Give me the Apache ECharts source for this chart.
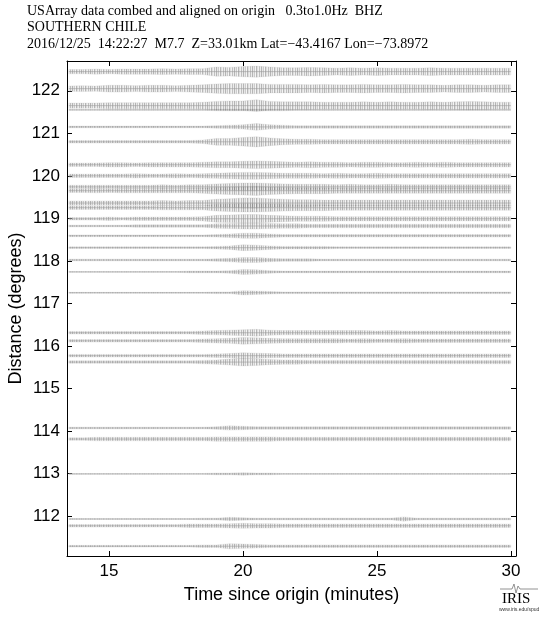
<!DOCTYPE html>
<html><head><meta charset="utf-8">
<script src="https://cdn.jsdelivr.net/npm/echarts@6/dist/echarts.min.js"></script>
<style>html,body{margin:0;padding:0;background:#fff}#c{width:556px;height:618px}</style>
</head><body><div id="c"></div>
<script>
// ---------- data ----------
const titleLines = [
  'USArray data combed and aligned on origin   0.3to1.0Hz  BHZ',
  'SOUTHERN CHILE',
  '2016/12/25  14:22:27  M7.7  Z=33.01km Lat=\u221243.4167 Lon=\u221273.8972'
];
const xTicks = [15, 20, 25, 30];
const yTicks = [112, 113, 114, 115, 116, 117, 118, 119, 120, 121, 122];
// sample times of the envelope readings (minutes since origin)
const times = [13.5,14,14.5,15,15.5,16,16.5,17,17.5,18,18.5,19,19.5,20,20.5,21,21.5,22,22.5,23,23.5,24,24.5,25,25.5,26,26.5,27,27.5,28,28.5,29,29.5,30];
// station distances (degrees)
const distances = [122.45,122.05,121.65,121.55,121.15,120.80,120.26,120.00,119.74,119.65,119.36,119.25,118.99,118.82,118.59,118.31,118.02,117.74,117.25,116.31,116.12,115.77,115.62,114.07,113.81,112.99,111.93,111.77,111.29];
// half-amplitude envelope of each trace, hundredths of a degree
const amplitudes = [
  [5,5,6,5,6,6,6,7,6,7,7,11,10,12,13,11,9,9,10,9,8,9,8,9,8,8,8,9,8,8,8,8,8,8],
  [6,7,6,8,8,7,8,8,7,8,9,11,12,12,12,10,10,10,9,10,9,9,10,9,9,10,9,9,8,9,9,8,9,9],
  [6,6,6,7,7,7,7,7,7,7,8,10,11,11,14,10,9,9,9,8,8,8,9,8,9,8,8,9,8,9,10,9,8,8],
  [1,1,1,1,1,1,1,1,1,1,1,2,2,2,2,2,2,1,1,1,1,1,1,1,1,1,1,1,1,1,1,1,1,1],
  [2,2,2,2,2,2,2,2,2,2,2,3,4,5,8,5,4,3,3,3,3,3,3,3,3,3,3,3,3,3,3,3,3,3],
  [3,3,3,3,3,3,3,3,3,3,4,8,8,10,12,9,7,6,6,5,5,5,5,5,5,5,5,5,5,5,6,5,5,5],
  [4,4,4,5,5,4,5,5,5,5,6,7,7,8,9,8,7,6,7,6,6,5,6,6,5,5,6,5,6,5,5,5,5,5],
  [4,4,4,4,4,5,4,4,5,4,5,6,7,8,8,7,6,6,6,5,6,5,5,6,5,5,5,5,5,5,5,5,5,5],
  [4,4,4,4,4,4,4,5,4,5,5,7,8,9,9,8,7,6,6,6,5,6,5,5,6,5,5,5,5,5,5,5,5,5],
  [4,4,5,4,5,5,5,5,5,5,6,8,9,10,11,9,8,7,7,7,6,6,6,6,6,6,6,6,6,6,6,6,6,6],
  [5,5,5,5,5,5,5,6,5,6,6,9,10,12,12,10,9,8,8,7,7,7,7,7,7,7,7,7,7,7,7,7,7,7],
  [4,4,4,4,4,4,4,5,5,5,5,8,9,10,10,9,8,7,7,7,6,6,6,6,6,6,6,6,6,6,6,6,6,6],
  [3,3,3,4,3,4,4,4,4,4,5,8,9,10,10,8,7,6,6,6,5,5,5,5,5,5,5,5,5,5,5,5,5,5],
  [2,2,2,2,2,3,3,3,3,3,3,5,6,7,7,6,5,5,4,4,4,4,4,4,4,4,4,4,4,4,4,4,4,4],
  [2,2,2,2,2,2,2,2,2,2,2,3,4,6,6,4,3,3,3,3,3,3,3,3,3,3,3,3,3,3,3,3,3,3],
  [2,2,2,2,2,2,2,2,2,2,2,3,4,7,6,4,3,3,3,3,2,2,2,2,2,2,2,2,2,2,2,2,2,2],
  [2,2,2,2,2,2,2,2,2,2,2,3,4,6,6,4,3,3,3,2,2,2,2,2,2,2,2,2,2,2,2,2,2,2],
  [1,1,1,1,1,1,1,1,1,2,2,2,3,6,5,3,2,2,2,2,2,2,2,2,2,2,2,2,2,2,2,2,2,2],
  [1,1,1,1,1,1,1,1,1,1,1,2,2,5,4,3,2,2,2,2,2,2,2,2,2,2,2,2,2,2,2,2,2,2],
  [3,3,3,3,3,3,3,3,3,3,4,5,6,7,8,6,5,5,5,5,5,5,5,4,5,4,4,4,4,4,4,4,4,4],
  [3,3,3,3,3,3,3,3,3,3,4,5,6,8,7,6,5,5,5,5,5,4,5,4,4,5,4,4,4,4,4,4,4,4],
  [3,3,3,3,3,3,3,3,3,3,3,4,5,7,6,5,4,4,4,4,4,4,4,4,4,4,4,4,4,4,4,4,4,4],
  [3,3,3,3,3,3,3,3,3,3,4,5,7,9,8,6,5,5,4,4,4,4,4,4,4,4,4,4,4,4,4,4,4,4],
  [2,2,2,2,2,2,2,2,2,2,2,3,5,4,3,3,3,3,3,3,3,3,3,3,3,3,3,3,3,3,3,3,3,3],
  [3,3,4,4,4,4,4,4,4,4,4,5,5,5,5,5,4,4,4,4,4,4,4,4,4,4,4,4,4,4,4,4,4,4],
  [1,1,1,1,1,1,1,1,1,1,1,2,2,3,2,2,1,1,1,1,1,1,1,1,1,1,1,1,1,1,1,1,1,1],
  [1,1,1,1,1,1,1,1,1,1,2,2,4,3,2,2,2,2,2,2,2,2,2,2,2,5,2,2,2,2,2,2,2,2],
  [3,3,3,3,3,3,3,3,3,4,4,4,5,6,5,5,4,4,4,4,4,4,4,4,4,4,4,4,4,4,4,4,4,4],
  [2,2,2,2,2,2,2,2,2,2,3,3,6,5,4,3,3,3,3,3,3,3,3,3,3,3,3,3,3,3,3,3,3,3]
];

// ---------- chart ----------
const chart = echarts.init(document.getElementById('c'), null, {renderer: 'canvas'});
const FONT = '"Liberation Sans", Arial, sans-serif';
const SERIF = '"Liberation Serif", "Times New Roman", serif';
const X_MIN = 13.43, X_MAX = 30.19, Y_MIN = 111.06, Y_MAX = 122.7;

// fine vertical-stroke texture used to fill the trace envelopes (style only)
const pat = document.createElement('canvas');
pat.width = 9; pat.height = 1;
(function () {
  const g = pat.getContext('2d');
  const shades = ['rgba(120,120,120,0.55)', 'rgba(190,190,190,0.35)', 'rgba(140,140,140,0.45)',
                  'rgba(215,215,215,0.25)', 'rgba(110,110,110,0.5)', 'rgba(175,175,175,0.4)',
                  'rgba(205,205,205,0.3)', 'rgba(130,130,130,0.5)', 'rgba(195,195,195,0.3)'];
  shades.forEach((c, k) => { g.fillStyle = c; g.fillRect(k, 0, 1, 1); });
})();

function axisCommon(showLabel) {
  return {
    axisLine: {show: true, onZero: false, lineStyle: {color: '#000', width: 1}},
    axisTick: {show: true, inside: true, length: 5, lineStyle: {color: '#000', width: 1}},
    splitLine: {show: false},
    axisLabel: {show: showLabel, color: '#000', fontSize: 17, fontFamily: FONT}
  };
}
const xBase = (pos, showLabel) => {
  const a = axisCommon(showLabel);
  a.axisTick.customValues = xTicks;
  a.axisLabel.customValues = xTicks;
  a.axisLabel.margin = 7;
  return Object.assign({type: 'value', position: pos, min: X_MIN, max: X_MAX}, a);
};
const yBase = (pos, showLabel) => {
  const a = axisCommon(showLabel);
  a.axisTick.customValues = yTicks;
  a.axisLabel.customValues = yTicks;
  a.axisLabel.margin = 7;
  return Object.assign({type: 'value', position: pos, min: Y_MIN, max: Y_MAX}, a);
};

const xBottom = xBase('bottom', true);
xBottom.name = 'Time since origin (minutes)';
xBottom.nameLocation = 'middle';
xBottom.nameGap = 39;
xBottom.nameMoveOverlap = false;
xBottom.nameTextStyle = {color: '#000', fontSize: 18, fontFamily: FONT, verticalAlign: 'middle'};
const yLeft = yBase('left', true);
yLeft.name = 'Distance (degrees)';
yLeft.nameLocation = 'middle';
yLeft.nameGap = 51;
yLeft.nameMoveOverlap = false;
yLeft.nameTextStyle = {color: '#000', fontSize: 18, fontFamily: FONT, verticalAlign: 'middle'};

const graphic = titleLines.map((t, i) => ({
  type: 'text', left: 27, top: 4 + i * 16.5,
  style: {text: t, font: '14px ' + SERIF, fill: '#000'}
}));
graphic.push(
  {type: 'polyline', shape: {points: [[500,589],[512,589],[514,584],[516,593],[518,586],[520,589],[538,589]]}, style: {stroke: '#777', lineWidth: 0.8, fill: null}},
  {type: 'text', left: 502, top: 592, style: {text: 'IRIS', font: '15px ' + SERIF, fill: '#000'}},
  {type: 'text', left: 499, top: 607, style: {text: 'www.iris.edu/spud', font: '5px ' + FONT, fill: '#333'}}
);

chart.setOption({
  animation: false,
  backgroundColor: '#fff',
  grid: {left: 67, top: 61, width: 449, height: 495, containLabel: false, outerBoundsMode: 'none'},
  xAxis: [xBottom, xBase('top', false)],
  yAxis: [yLeft, yBase('right', false)],
  graphic: graphic,
  series: [{
    type: 'custom',
    xAxisIndex: 0, yAxisIndex: 0,
    clip: true,
    encode: {x: 0, y: 1},
    data: distances.map((d, i) => [times[0], d, i]),
    renderItem: function (params, api) {
      const i = api.value(2);
      const d = distances[i], a = amplitudes[i];
      const up = [], lo = [];
      for (let k = 0; k < times.length; k++) {
        up.push(api.coord([times[k], d + a[k] / 100]));
        lo.push(api.coord([times[k], d - a[k] / 100]));
      }
      const poly = up.concat(lo.reverse());
      const p0 = api.coord([times[0], d]);
      const p1 = api.coord([times[times.length - 1], d]);
      return {type: 'group', children: [
        {type: 'polygon', shape: {points: poly}, style: {fill: {image: pat, repeat: 'repeat'}, stroke: 'rgba(175,175,175,0.45)', lineWidth: 0.4}},
        {type: 'line', shape: {x1: p0[0], y1: p0[1], x2: p1[0], y2: p1[1]}, style: {stroke: '#9a9a9a', lineWidth: 0.6}}
      ]};
    }
  }]
});
</script>
</body></html>
